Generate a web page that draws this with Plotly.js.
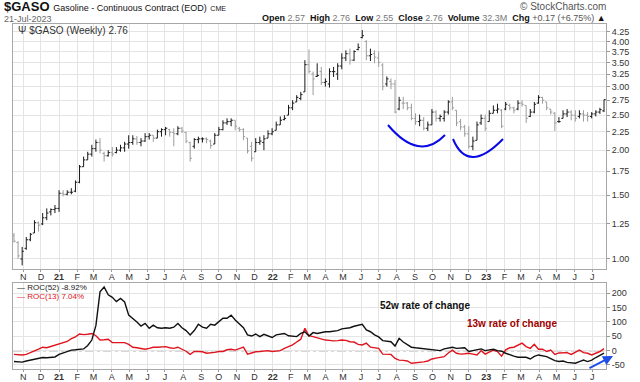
<!DOCTYPE html>
<html><head><meta charset="utf-8">
<script src="https://cdn.plot.ly/plotly-3.0.1.min.js"></script>
<style>html,body{margin:0;padding:0;background:#fff;}#chart{width:640px;height:382px;}</style>
</head><body><div id="chart"></div>
<script>
// Weekly bars, first bar week ending 2020-10-16, last 2023-07-21
const startDate = '2020-10-16';
const openP = [1.16,1.11,1.00,1.07,1.13,1.18,1.26,1.25,1.30,1.35,
1.37,1.38,1.52,1.51,1.53,1.54,1.63,1.80,1.88,1.95,
2.02,2.10,1.96,1.93,1.97,1.97,2.00,2.03,2.08,2.10,
2.15,2.10,2.12,2.18,2.20,2.16,2.25,2.28,2.28,2.24,
2.22,2.30,2.24,2.10,2.05,2.14,2.15,2.15,2.12,2.08,
2.20,2.28,2.38,2.40,2.42,2.30,2.28,2.16,2.05,1.98,
2.10,2.10,2.16,2.22,2.27,2.35,2.43,2.50,2.62,2.72,
2.78,2.90,3.45,3.25,3.20,3.30,3.08,3.05,3.30,3.25,
3.42,3.60,3.70,3.55,3.80,4.10,4.00,3.65,3.70,3.60,
3.44,3.05,3.10,3.05,2.60,2.70,2.70,2.62,2.45,2.40,
2.42,2.30,2.35,2.55,2.45,2.45,2.55,2.72,2.58,2.40,
2.32,2.22,2.05,2.13,2.38,2.45,2.40,2.53,2.58,2.58,
2.60,2.66,2.62,2.60,2.70,2.66,2.48,2.55,2.70,2.80,
2.72,2.60,2.53,2.40,2.45,2.52,2.55,2.50,2.48,2.52,
2.50,2.48,2.52,2.55,2.57];
const highP = [1.18,1.12,1.08,1.15,1.18,1.28,1.27,1.34,1.38,1.38,
1.41,1.55,1.55,1.55,1.57,1.65,1.82,1.92,1.98,2.07,
2.14,2.16,1.98,2.00,2.04,2.04,2.07,2.11,2.20,2.20,
2.19,2.16,2.23,2.23,2.20,2.28,2.30,2.32,2.29,2.30,
2.33,2.32,2.25,2.11,2.16,2.18,2.17,2.17,2.14,2.23,
2.32,2.42,2.45,2.45,2.42,2.32,2.30,2.16,2.11,2.16,
2.18,2.20,2.27,2.30,2.40,2.48,2.50,2.67,2.75,2.84,
2.90,3.55,3.80,3.30,3.48,3.40,3.16,3.37,3.40,3.48,
3.71,3.78,3.82,3.78,3.95,4.30,4.03,3.82,3.78,3.75,
3.48,3.20,3.16,3.13,2.81,2.81,2.72,2.69,2.53,2.51,
2.47,2.40,2.60,2.58,2.51,2.58,2.75,2.81,2.58,2.44,
2.35,2.33,2.18,2.40,2.51,2.51,2.58,2.66,2.69,2.60,
2.72,2.69,2.64,2.75,2.75,2.66,2.60,2.72,2.84,2.81,
2.72,2.60,2.55,2.47,2.58,2.60,2.58,2.58,2.58,2.58,
2.55,2.55,2.58,2.62,2.76];
const lowP = [1.11,1.00,0.96,1.06,1.12,1.18,1.19,1.24,1.28,1.32,
1.34,1.35,1.49,1.50,1.51,1.53,1.62,1.80,1.88,1.92,
1.98,1.96,1.86,1.92,1.92,1.96,1.98,1.98,2.02,2.07,
2.07,2.05,2.11,2.14,2.11,2.16,2.18,2.20,2.18,2.05,
2.20,2.23,2.09,1.86,2.02,2.09,2.10,2.09,2.02,2.08,
2.20,2.27,2.35,2.33,2.27,2.25,2.13,1.96,1.86,1.98,
2.07,2.00,2.16,2.20,2.27,2.35,2.42,2.50,2.58,2.72,
2.75,2.90,3.26,2.84,3.19,3.03,3.00,2.98,3.19,3.13,
3.35,3.53,3.45,3.53,3.78,4.08,3.55,3.53,3.48,3.40,
2.93,3.00,2.95,2.53,2.58,2.60,2.58,2.42,2.35,2.33,
2.27,2.26,2.35,2.40,2.40,2.40,2.51,2.58,2.33,2.27,
2.18,2.02,2.00,2.13,2.35,2.26,2.40,2.53,2.53,2.30,
2.58,2.58,2.53,2.58,2.64,2.38,2.47,2.53,2.69,2.69,
2.58,2.51,2.26,2.38,2.45,2.47,2.42,2.40,2.45,2.40,
2.40,2.45,2.48,2.52,2.55];
const closeP = [1.12,1.02,1.05,1.13,1.17,1.26,1.24,1.30,1.34,1.37,
1.38,1.52,1.51,1.53,1.53,1.63,1.80,1.88,1.95,2.02,
2.10,2.00,1.93,1.97,1.95,2.00,2.03,2.08,2.10,2.15,
2.10,2.12,2.18,2.20,2.16,2.25,2.28,2.30,2.24,2.22,
2.30,2.26,2.12,1.90,2.14,2.15,2.15,2.14,2.06,2.20,
2.28,2.38,2.40,2.42,2.33,2.28,2.18,1.99,1.90,2.10,
2.12,2.15,2.22,2.25,2.35,2.42,2.45,2.62,2.70,2.80,
2.85,3.45,3.30,3.15,3.22,3.08,3.10,3.30,3.30,3.42,
3.60,3.70,3.55,3.75,3.85,4.15,3.65,3.68,3.62,3.50,
3.00,3.15,3.05,2.55,2.75,2.70,2.62,2.45,2.40,2.42,
2.30,2.35,2.55,2.45,2.48,2.55,2.72,2.62,2.38,2.32,
2.22,2.05,2.12,2.35,2.45,2.30,2.53,2.58,2.60,2.33,
2.68,2.62,2.58,2.70,2.68,2.45,2.55,2.68,2.80,2.75,
2.62,2.55,2.38,2.40,2.52,2.55,2.50,2.45,2.52,2.50,
2.48,2.52,2.55,2.59,2.76];
const roc52 = [-38,-40,-40,-36,-33,-28,-26,-24,-25,-24,
-22,-13,-8,-3,2,3,5,6,18,37,
88,205,222,195,186,171,182,170,124,113,
100,86,95,78,89,80,78,80,78,82,
95,80,70,55,70,92,82,78,92,89,
100,113,113,124,107,95,80,55,51,58,
49,57,51,46,55,58,60,52,51,49,
60,66,51,63,60,63,66,66,68,70,
76,78,80,85,89,92,72,66,55,48,
35,33,31,16,43,30,20,12,10,8,
6,5,2,1,0,6,8,12,8,9,
10,-3,0,2,6,0,3,5,0,-2,
-9,-15,-19,-23,-22,-23,-29,-20,-15,-18,
-21,-28,-35,-38,-36,-41,-43,-44,-38,-33,
-38,-33,-24,-15,-8.92];
const roc13 = [-13,-15,-15,-13,-6,-1,5,12,10,14,
20,24,28,32,42,48,58,56,57,60,
52,37,38,40,28,28,30,28,22,12,
10,8,5,8,12,12,13,14,10,8,
12,5,-2,-13,-3,-3,-4,-9,-8,-6,
-3,-3,3,5,2,8,12,-12,-7,-4,
-3,-1,0,-3,-2,0,8,14,20,30,
40,78,52,49,45,40,37,36,34,35,
37,36,31,30,22,20,26,12,10,8,
-12,-12,-13,-27,-33,-34,-36,-44,-43,-42,
-39,-36,-29,-26,-23,-21,-8,2,-9,-12,
-11,-9,-12,-15,0,-12,-5,2,-3,-19,
3,10,12,20,26,14,8,22,5,5,
-3,2,-13,-8,-7,-7,-13,-5,2,-7,
-9,-15,-10,-3,7.04];
const monthTicks = ['2020-11-01','2020-12-01','2021-01-01','2021-02-01','2021-03-01','2021-04-01','2021-05-01','2021-06-01','2021-07-01','2021-08-01','2021-09-01','2021-10-01','2021-11-01','2021-12-01','2022-01-01','2022-02-01','2022-03-01','2022-04-01','2022-05-01','2022-06-01','2022-07-01','2022-08-01','2022-09-01','2022-10-01','2022-11-01','2022-12-01','2023-01-01','2023-02-01','2023-03-01','2023-04-01','2023-05-01','2023-06-01','2023-07-01'];
const monthLabels = ['N','D','<b>21</b>','F','M','A','M','J','J','A','S','O','N','D','<b>22</b>','F','M','A','M','J','J','A','S','O','N','D','<b>23</b>','F','M','A','M','J','J'];
const priceTicks = [1.00,1.25,1.50,1.75,2.00,2.25,2.50,2.75,3.00,3.25,3.50,3.75,4.00,4.25];
const rocTicks = [-50,0,50,100,150,200];

const dates = [];
const d0 = new Date(startDate + 'T00:00:00Z').getTime();
for (let i = 0; i < closeP.length; i++) dates.push(new Date(d0 + i * 7 * 86400000).toISOString().slice(0, 10));

const FONT = 'Liberation Sans, Arial, sans-serif';
const L = 13, R = 606, T = 24, B = 369;
const px = x => (x - L) / (R - L);
const py = y => (B - y) / (B - T);

const gridC = '#e4e4e4', lineC = '#a8a8a8', tickFont = {family: FONT, size: 9, color: '#333'};

const xcommon = {
  type: 'date', range: ['2020-10-14 08:00', '2023-07-24 10:00'],
  tickmode: 'array', tickvals: monthTicks, ticktext: monthLabels,
  showgrid: true, gridcolor: gridC, gridwidth: 1,
  ticks: 'outside', ticklen: 2, tickcolor: '#999', ticklabelstandoff: -3,
  tickfont: tickFont, showline: true, mirror: true, linecolor: lineC, linewidth: 1,
  automargin: false, zeroline: false, fixedrange: true
};

const traces = [
  {type: 'ohlc', x: dates, open: openP, high: highP, low: lowP, close: closeP,
   xaxis: 'x', yaxis: 'y', tickwidth: 0.42,
   increasing: {line: {color: '#1a1a1a', width: 1}},
   decreasing: {line: {color: '#9c9c9c', width: 1}}, hoverinfo: 'skip', showlegend: false},
  {type: 'scatter', mode: 'lines', x: dates, y: roc13, xaxis: 'x2', yaxis: 'y2',
   line: {color: '#e0141e', width: 1.4}, hoverinfo: 'skip', showlegend: false},
  {type: 'scatter', mode: 'lines', x: dates, y: roc52, xaxis: 'x2', yaxis: 'y2',
   line: {color: '#111', width: 1.4}, hoverinfo: 'skip', showlegend: false}
];

const ann = (x, y, text, opt) => Object.assign({xref: 'paper', yref: 'paper', x: px(x), y: py(y), text: text,
  showarrow: false, xanchor: 'left', yanchor: 'middle', font: {family: FONT, size: 10, color: '#333'}}, opt || {});

const layout = {
  width: 640, height: 382, paper_bgcolor: '#fff', plot_bgcolor: '#fff',
  margin: {l: L, r: 640 - R, t: T, b: 382 - B, pad: 0},
  showlegend: false,
  xaxis: Object.assign({}, xcommon, {anchor: 'y', rangeslider: {visible: false}}),
  xaxis2: Object.assign({}, xcommon, {anchor: 'y2', matches: 'x'}),
  yaxis: {type: 'log', domain: [py(269), 1], anchor: 'x', side: 'right',
    range: [Math.log10(0.938), Math.log10(4.47)],
    tickmode: 'array', tickvals: priceTicks, ticktext: priceTicks.map(v => v.toFixed(2)),
    showgrid: true, gridcolor: gridC, ticks: 'outside', ticklen: 3, tickcolor: '#999',
    tickfont: tickFont, showline: true, mirror: true, linecolor: lineC, automargin: false, zeroline: false, fixedrange: true},
  yaxis2: {domain: [0, py(283)], anchor: 'x2', side: 'right', range: [-64, 236],
    tickmode: 'array', tickvals: rocTicks, ticktext: rocTicks.map(String),
    showgrid: true, gridcolor: gridC, ticks: 'outside', ticklen: 3, tickcolor: '#999',
    tickfont: tickFont, showline: true, mirror: true, linecolor: lineC, automargin: false, zeroline: false, fixedrange: true},
  shapes: [
    {type: 'line', xref: 'paper', x0: 0, x1: 1, yref: 'y2', y0: 0, y1: 0, layer: 'below',
     line: {color: '#b0b0b0', width: 1.5, dash: 'dashdot'}},
    {type: 'path', xref: 'paper', yref: 'paper',
     path: `M ${px(388)},${py(125)} Q ${px(419)},${py(162)} ${px(445)},${py(135)}`,
     line: {color: '#0a0ae6', width: 2}},
    {type: 'path', xref: 'paper', yref: 'paper',
     path: `M ${px(453)},${py(139)} Q ${px(468)},${py(175)} ${px(503)},${py(139)}`,
     line: {color: '#0a0ae6', width: 2}}
  ],
  annotations: [
    ann(2, 7, "<b>$GASO</b> <span style='font-size:9px'>Gasoline - Continuous Contract (EOD)</span> <span style='font-size:7px'>CME</span>",
      {font: {family: FONT, size: 13, color: '#111'}}),
    ann(2, 19, '21-Jul-2023', {font: {family: FONT, size: 9, color: '#666'}}),
    ann(608, 18, "<b>Open</b> <span style='color:#777'>2.57</span>  <b>High</b> <span style='color:#777'>2.76</span>  <b>Low</b> <span style='color:#777'>2.55</span>  <b>Close</b> <span style='color:#777'>2.76</span>  <b>Volume</b> <span style='color:#777'>32.3M</span>  <b>Chg</b> <span style='color:#555'>+0.17 (+6.75%)</span> ▲",
      {xanchor: 'right', font: {family: FONT, size: 9, color: '#111'}}),
    ann(608, 7, '© StockCharts.com', {xanchor: 'right', font: {family: FONT, size: 10, color: '#555'}}),
    ann(16, 30, 'Ψ $GASO (Weekly) 2.76', {font: {family: FONT, size: 10, color: '#333'}}),
    ann(15, 287.5, "— ROC(52) -8.92%", {font: {family: FONT, size: 8, color: '#222'}}),
    ann(15, 296.5, "— ROC(13) 7.04%", {font: {family: FONT, size: 8, color: '#e0141e'}}),
    ann(378, 305, '<b>52w rate of change</b>', {font: {family: FONT, size: 10, color: '#111'}}),
    ann(465, 323, '<b>13w rate of change</b>', {font: {family: FONT, size: 10, color: '#a00000'}}),
    {xref: 'paper', yref: 'paper', x: px(613), y: py(356), ax: -25, ay: 13, text: '', showarrow: true,
     arrowhead: 2, arrowsize: 1, arrowwidth: 2, arrowcolor: '#1f4fe6'}
  ]
};

Plotly.newPlot('chart', traces, layout, {displayModeBar: false, staticPlot: true});
</script>
</body></html>
